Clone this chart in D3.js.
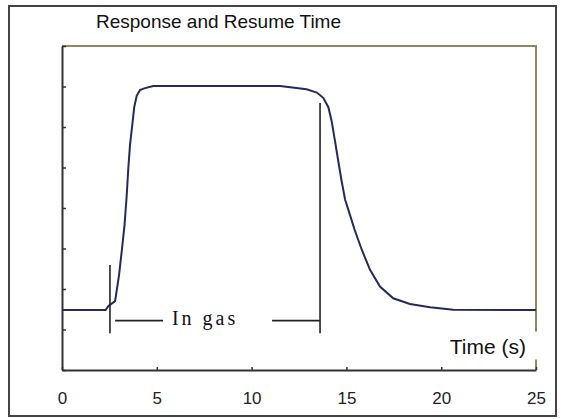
<!DOCTYPE html>
<html>
<head>
<meta charset="utf-8">
<script src="https://cdn.jsdelivr.net/npm/d3@7"></script>
<style>
  body { margin: 0; background: #fff; }
  svg { display: block; }
</style>
</head>
<body>
<div id="chart"></div>
<script>
// response curve
const timeS = [0, 2.3, 2.45, 2.8, 3.01, 3.15, 3.3, 3.41, 3.5, 3.59, 3.68, 3.81, 3.94, 4.11, 4.38, 4.81,
  11.5, 12.9, 13.44, 13.78, 14.05, 14.22, 14.4, 14.57, 14.75, 14.93, 15.1, 15.43, 15.81, 16.24,
  16.77, 17.47, 18.35, 19.41, 20.64, 25];
const signal = [1.48, 1.48, 1.58, 1.7, 2.35, 2.93, 3.59, 4.29, 5.0, 5.57, 5.94, 6.49, 6.77, 6.91, 6.96, 7.01,
  7.01, 6.93, 6.85, 6.72, 6.49, 6.15, 5.65, 5.16, 4.66, 4.21, 3.96, 3.47, 2.97, 2.48,
  2.06, 1.77, 1.63, 1.55, 1.49, 1.48];
const xTicks = [0, 5, 10, 15, 20, 25];
const yTicks = [0, 1, 2, 3, 4, 5, 6, 7, 8];

const gasOn = 2.53, gasOff = 13.61;

const width = 565, height = 419;
const margin = { top: 46, left: 62, bottom: 49, right: 29 };
const iwidth = width - margin.left - margin.right;
const iheight = height - margin.top - margin.bottom;

const svg = d3.select("#chart").append("svg")
  .attr("width", width)
  .attr("height", height);

// outer frame
svg.append("rect")
  .attr("x", 9).attr("y", 6)
  .attr("width", 547).attr("height", 410)
  .attr("fill", "#fff")
  .attr("stroke", "#444")
  .attr("stroke-width", 2);

svg.append("text")
  .attr("x", 96).attr("y", 28)
  .style("font-family", "Liberation Sans, Arial, sans-serif")
  .style("font-size", "19px")
  .attr("fill", "#111")
  .text("Response and Resume Time");

const g = svg.append("g")
  .attr("transform", `translate(${margin.left},${margin.top})`);

const x = d3.scaleLinear().domain([0, 25]).range([0, iwidth]);
const y = d3.scaleLinear().domain([0, 8]).range([iheight, 0]);

// top and right edges (olive)
g.append("path")
  .attr("d", `M0,0H${iwidth}V${iheight}`)
  .attr("fill", "none")
  .attr("stroke", "#8a8a5a")
  .attr("stroke-width", 2);

const yAxis = g.append("g")
  .call(d3.axisLeft(y).tickValues(yTicks).tickSizeInner(-4).tickSizeOuter(0).tickFormat(""));
yAxis.select(".domain").attr("stroke", "#333").attr("stroke-width", 2);
yAxis.selectAll(".tick line").attr("stroke", "#333").attr("stroke-width", 1.5);

const xAxis = g.append("g")
  .attr("transform", `translate(0,${iheight})`)
  .call(d3.axisBottom(x).tickValues(xTicks).tickSizeInner(-3).tickSizeOuter(0).tickPadding(22));
xAxis.select(".domain").attr("stroke", "#333").attr("stroke-width", 2);
xAxis.selectAll(".tick line").attr("stroke", "#333").attr("stroke-width", 1.5);
xAxis.selectAll(".tick text")
  .style("font-family", "Liberation Sans, Arial, sans-serif")
  .style("font-size", "17px")
  .attr("fill", "#222");

// axis label with white box over the right edge
g.append("rect")
  .attr("x", x(20.2)).attr("y", y(0.95))
  .attr("width", x(25) - x(20.2) + 3).attr("height", 28)
  .attr("fill", "#fff");
g.append("text")
  .attr("x", x(20.45)).attr("y", y(0.4))
  .style("font-family", "Liberation Sans, Arial, sans-serif")
  .style("font-size", "21px")
  .attr("fill", "#111")
  .text("Time (s)");

const line = d3.line()
  .x((d, i) => x(timeS[i]))
  .y((d) => y(d));

g.append("path")
  .datum(signal)
  .attr("d", line)
  .attr("fill", "none")
  .attr("stroke", "#28285e")
  .attr("stroke-width", 2);

// "In gas" marker
const ann = g.append("g").attr("stroke", "#222").attr("stroke-width", 1.6);
ann.append("line").attr("x1", x(gasOn)).attr("x2", x(gasOn)).attr("y1", y(2.59)).attr("y2", y(0.91));
ann.append("line").attr("x1", x(gasOff)).attr("x2", x(gasOff)).attr("y1", y(6.59)).attr("y2", y(0.91));
ann.append("line").attr("x1", x(2.8)).attr("x2", x(5.33)).attr("y1", y(1.22)).attr("y2", y(1.22));
ann.append("line").attr("x1", x(11.08)).attr("x2", x(gasOff)).attr("y1", y(1.22)).attr("y2", y(1.22));

g.append("text")
  .attr("x", x(5.8)).attr("y", y(1.1))
  .style("font-family", "Liberation Serif, Times New Roman, serif")
  .style("font-size", "20px")
  .style("letter-spacing", "3px")
  .attr("fill", "#111")
  .text("In gas");
</script>
</body>
</html>
